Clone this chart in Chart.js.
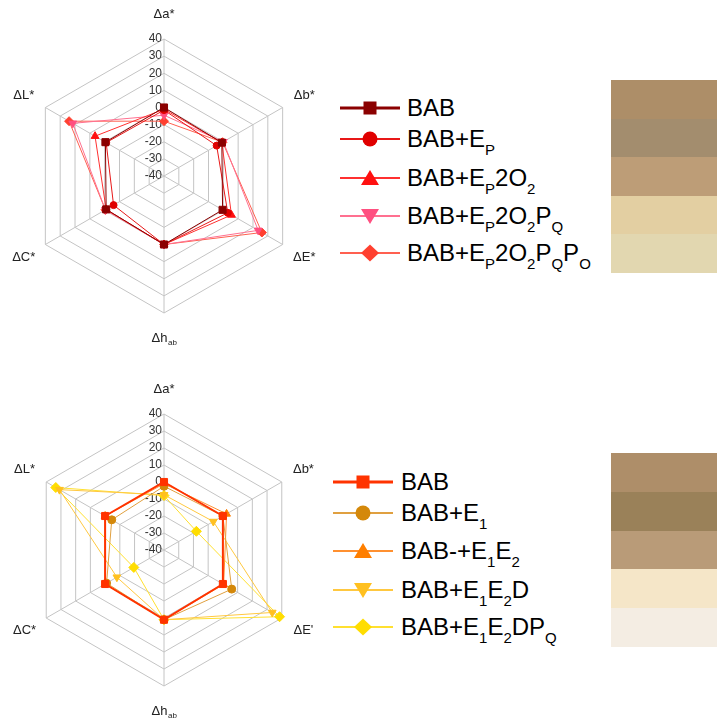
<!DOCTYPE html>
<html>
<head>
<meta charset="utf-8">
<script src="https://cdn.jsdelivr.net/npm/chart.js@4"></script>
<style>
  body { margin: 0; background: #fff; width: 717px; height: 720px; position: relative; overflow: hidden;
         font-family: "Liberation Sans", Arial, sans-serif; }
  canvas { position: absolute; left: 0; }
  .row { position: absolute; height: 26px; line-height: 26px; font-size: 24px; color: #000; white-space: nowrap; }
  .row .s { font-size: 15px; position: relative; top: 8px; line-height: 0; }
  .mk { position: absolute; }
  .sw { position: absolute; left: 611px; width: 106px; }
</style>
</head>
<body>
<canvas id="chartTop" width="330" height="360" style="top:0"></canvas>
<canvas id="chartBottom" width="330" height="350" style="top:370px"></canvas>
<div id="legends"></div>
<script>
// Colour-difference axes (clockwise from the top)
const axesTop = ['Δa*', 'Δb*', 'ΔE*', 'Δh', 'ΔC*', 'ΔL*'];
const axesBottom = ['Δa*', 'Δb*', "ΔE'", 'Δh', 'ΔC*', 'ΔL*'];
const axisSubs = ['', '', '', 'ab', '', ''];

const tickMin = -40, tickMax = 40, tickStep = 10;

// Upper panel: BAB series with E_P / O_2 / P_Q / P_O additions
const namesTop = ['BAB', 'BAB+E<span class="s">P</span>', 'BAB+E<span class="s">P</span>2O<span class="s">2</span>',
  'BAB+E<span class="s">P</span>2O<span class="s">2</span>P<span class="s">Q</span>',
  'BAB+E<span class="s">P</span>2O<span class="s">2</span>P<span class="s">Q</span>P<span class="s">O</span>'];
const babTop      = [0,   -1,   -0.5, 0, -1,   -0.5];
const bab_EP      = [-1.5, -4.5, 3,   0, -6,   -1];
const bab_EP2O2   = [-1,  -1,   5.5,  0, -1,   6.5];
const bab_EP2O2PQ = [-4.5, 0,   23.5, 0, -0.5, 21.5];
const bab_EP2O2PQPO = [-8, -0.5, 26,  0, -0.5, 24];

// Lower panel: BAB series with E_1 / E_2 / D / P_Q additions
const namesBottom = ['BAB', 'BAB+E<span class="s">1</span>', 'BAB-+E<span class="s">1</span>E<span class="s">2</span>',
  'BAB+E<span class="s">1</span>E<span class="s">2</span>D', 'BAB+E<span class="s">1</span>E<span class="s">2</span>DP<span class="s">Q</span>'];
const babBottom   = [0,    0,    0,    1, 0,     0];
const bab_E1      = [-2.5, 0,    6,    1, -1,    -4.5];
const bab_E1E2    = [-1,   2.5,  0.5,  1, 0,     0];
const bab_E1E2D   = [-7.5, -6.5, 33.5, 1, -8,    31];
const bab_E1E2DPQ = [-8,   -18,  38.5, 1, -19.5, 33.5];

// Sample colour swatches
const swatchTop = ['#ad8e68', '#a38d6e', '#bd9d77', '#e3cfa2', '#e2d7b0'];
const swatchBottom = ['#ae8e69', '#9a8159', '#b99b78', '#f5e6c8', '#f4ede3'];

const FONT = '"Liberation Sans", Arial, sans-serif';

const stylesTop = [
  { line: '#8b0000', fill: '#8b0000', point: 'rect',     r: 5,   rot: 0,   lw: 1, legendLw: 3 },
  { line: '#e81818', fill: '#e00000', point: 'circle',   r: 3.5, rot: 0,   lw: 1, legendLw: 2 },
  { line: '#ff3030', fill: '#ff1010', point: 'triangle', r: 4.5, rot: 0,   lw: 1, legendLw: 2 },
  { line: '#ff7090', fill: '#ff5080', point: 'triangle', r: 4.5, rot: 180, lw: 1, legendLw: 2 },
  { line: '#ff6050', fill: '#ff4030', point: 'rectRot',  r: 4.5, rot: 0,   lw: 1, legendLw: 2 }
];
const stylesBottom = [
  { line: '#ff3300', fill: '#ff3300', point: 'rect',     r: 5,   rot: 0,   lw: 2, legendLw: 3 },
  { line: '#e0a040', fill: '#d4880a', point: 'circle',   r: 4,   rot: 0,   lw: 1, legendLw: 2 },
  { line: '#ff9030', fill: '#ff7f00', point: 'triangle', r: 4.5, rot: 0,   lw: 1, legendLw: 2 },
  { line: '#ffc840', fill: '#ffc020', point: 'triangle', r: 4.5, rot: 180, lw: 1, legendLw: 2 },
  { line: '#ffe030', fill: '#ffdd00', point: 'rectRot',  r: 5,   rot: 0,   lw: 1, legendLw: 2 }
];

// Tick numbers beside the vertical spoke and axis titles round the web
const radarText = {
  id: 'radarText',
  beforeDatasetsDraw(chart, args, opts) {
    const s = chart.scales.r, ctx = chart.ctx;
    ctx.save();
    ctx.font = '12px ' + FONT;
    ctx.fillStyle = '#333';
    ctx.textAlign = 'right';
    ctx.textBaseline = 'middle';
    s.ticks.forEach(t => {
      const d = s.getDistanceFromCenterForValue(t.value);
      ctx.fillText(t.label, s.xCenter - 2, s.yCenter - d);
    });
    ctx.fillStyle = '#222';
    chart.data.labels.forEach((lab, i) => {
      const p = s.getPointPosition(i, s.drawingArea + opts.gap);
      const sub = opts.subs[i];
      ctx.font = '13px ' + FONT;
      ctx.textAlign = 'left';
      const w1 = ctx.measureText(lab).width;
      let w2 = 0;
      if (sub) { ctx.font = '8px ' + FONT; w2 = ctx.measureText(sub).width; }
      const x0 = p.x - (w1 + w2) / 2;
      ctx.font = '13px ' + FONT;
      ctx.fillText(lab, x0, p.y);
      if (sub) { ctx.font = '8px ' + FONT; ctx.fillText(sub, x0 + w1 + 0.5, p.y + 5); }
    });
    ctx.restore();
  }
};

function buildDatasets(names, values, styles) {
  return values.map((v, i) => ({
    label: names[i].replace(/<[^>]+>/g, ''),
    data: v,
    borderColor: styles[i].line,
    backgroundColor: styles[i].fill,
    borderWidth: styles[i].lw,
    pointStyle: styles[i].point,
    pointRadius: styles[i].r,
    pointRotation: styles[i].rot,
    pointBackgroundColor: styles[i].fill,
    pointBorderColor: styles[i].fill,
    pointBorderWidth: 1,
    fill: false,
    tension: 0
  }));
}

function makeRadar(id, labels, datasets, padding) {
  return new Chart(document.getElementById(id), {
    type: 'radar',
    data: { labels, datasets },
    options: {
      responsive: false,
      animation: false,
      devicePixelRatio: 1,
      layout: { padding },
      plugins: {
        legend: { display: false },
        tooltip: { enabled: false },
        radarText: { gap: 25, subs: axisSubs }
      },
      scales: {
        r: {
          min: tickMin, max: tickMax,
          ticks: { display: false, stepSize: tickStep },
          pointLabels: { display: false },
          grid: { color: '#c4c4c4', lineWidth: 1 },
          angleLines: { color: '#c4c4c4', lineWidth: 1 }
        }
      }
    },
    plugins: [radarText]
  });
}

makeRadar('chartTop', axesTop,
  buildDatasets(namesTop, [babTop, bab_EP, bab_EP2O2, bab_EP2O2PQ, bab_EP2O2PQPO], stylesTop),
  { left: 27, right: 29, top: 39, bottom: 47 });
makeRadar('chartBottom', axesBottom,
  buildDatasets(namesBottom, [babBottom, bab_E1, bab_E1E2, bab_E1E2D, bab_E1E2DPQ], stylesBottom),
  { left: 28, right: 30, top: 44, bottom: 34 });

// Legend marker glyph
function markerSvg(st) {
  const c = st.fill, cx = 30, cy = 10;
  let shape = '';
  if (st.point === 'rect') shape = `<rect x="${cx - 6.5}" y="${cy - 6.5}" width="13" height="13" fill="${c}"/>`;
  else if (st.point === 'circle') shape = `<circle cx="${cx}" cy="${cy}" r="7.5" fill="${c}"/>`;
  else if (st.point === 'triangle' && st.rot === 0) shape = `<polygon points="${cx - 9},${cy + 7} ${cx + 9},${cy + 7} ${cx},${cy - 8}" fill="${c}"/>`;
  else if (st.point === 'triangle') shape = `<polygon points="${cx - 9},${cy - 7} ${cx + 9},${cy - 7} ${cx},${cy + 8}" fill="${c}"/>`;
  else shape = `<polygon points="${cx - 9},${cy} ${cx},${cy - 8.5} ${cx + 9},${cy} ${cx},${cy + 8.5}" fill="${c}"/>`;
  return `<svg width="60" height="20" viewBox="0 0 60 20"><line x1="0" y1="${cy}" x2="60" y2="${cy}" stroke="${st.line}" stroke-width="${st.legendLw}"/>${shape}</svg>`;
}

function buildLegend(names, styles, rowsY, markX, textX) {
  const host = document.getElementById('legends');
  names.forEach((n, i) => {
    const m = document.createElement('div');
    m.className = 'mk';
    m.style.left = markX + 'px';
    m.style.top = (rowsY[i] - 10) + 'px';
    m.innerHTML = markerSvg(styles[i]);
    host.appendChild(m);
    const t = document.createElement('div');
    t.className = 'row';
    t.style.left = textX + 'px';
    t.style.top = (rowsY[i] - 13) + 'px';
    t.innerHTML = n;
    host.appendChild(t);
  });
}

function buildSwatches(colors, top, h) {
  const host = document.getElementById('legends');
  colors.forEach((c, i) => {
    const d = document.createElement('div');
    d.className = 'sw';
    d.style.top = (top + i * h) + 'px';
    d.style.height = Math.ceil(h) + 'px';
    d.style.background = c;
    host.appendChild(d);
  });
}

buildLegend(namesTop, stylesTop, [108, 139, 178, 216, 253], 340, 407);
buildLegend(namesBottom, stylesBottom, [482, 513, 551, 590, 627], 333, 401);
buildSwatches(swatchTop, 80, 38.6);
buildSwatches(swatchBottom, 453, 38.8);
</script>
</body>
</html>
